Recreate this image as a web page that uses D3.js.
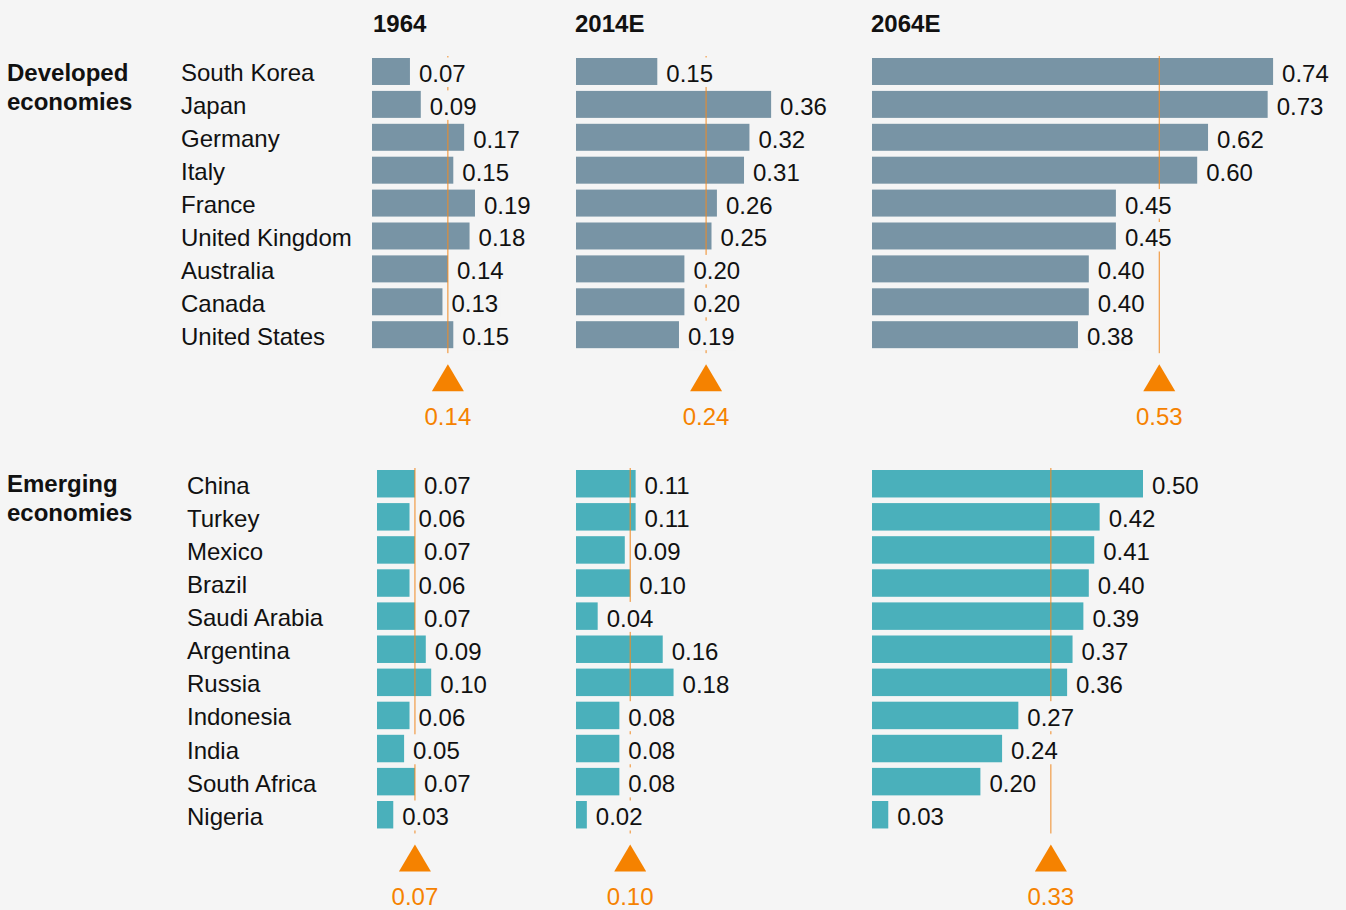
<!DOCTYPE html>
<html><head><meta charset="utf-8">
<script src="https://cdn.jsdelivr.net/npm/d3@7"></script>
<style>
html,body{margin:0;padding:0;background:#f5f5f5;}
svg{display:block;font-family:"Liberation Sans",Arial,sans-serif;}
</style></head>
<body><svg id="chart" width="1346" height="910"></svg>
<script>
// ---- data ----
const years = ["1964", "2014E", "2064E"];
const groupTitles = [["Developed", "economies"], ["Emerging", "economies"]];

const devCountries = ["South Korea","Japan","Germany","Italy","France","United Kingdom","Australia","Canada","United States"];
const dev1964 = [0.07, 0.09, 0.17, 0.15, 0.19, 0.18, 0.14, 0.13, 0.15];
const dev2014 = [0.15, 0.36, 0.32, 0.31, 0.26, 0.25, 0.20, 0.20, 0.19];
const dev2064 = [0.74, 0.73, 0.62, 0.60, 0.45, 0.45, 0.40, 0.40, 0.38];
const devMeans = [0.14, 0.24, 0.53];

const emCountries = ["China","Turkey","Mexico","Brazil","Saudi Arabia","Argentina","Russia","Indonesia","India","South Africa","Nigeria"];
const em1964 = [0.07, 0.06, 0.07, 0.06, 0.07, 0.09, 0.10, 0.06, 0.05, 0.07, 0.03];
const em2014 = [0.11, 0.11, 0.09, 0.10, 0.04, 0.16, 0.18, 0.08, 0.08, 0.08, 0.02];
const em2064 = [0.50, 0.42, 0.41, 0.40, 0.39, 0.37, 0.36, 0.27, 0.24, 0.20, 0.03];
const emMeans = [0.07, 0.10, 0.33];

// ---- style ----
const bg = "#f5f5f5";
const devColor = "#7894a5";
const emColor = "#4ab0bb";
const orange = "#f58200";
const lineColor = "#f08a24";
const fmt = d3.format(".2f");

const svg = d3.select("#chart");
svg.append("rect").attr("width",1346).attr("height",910).attr("fill",bg);

const x = d3.scaleLinear().domain([0, 1]).range([0, 542]);

// column headers
const headerX = [373, 575, 871];
svg.selectAll("text.year").data(years).join("text")
  .attr("class","year")
  .attr("x",(d,i)=>headerX[i]).attr("y",32)
  .attr("font-size",24).attr("font-weight","bold").attr("fill","#111")
  .text(d=>d);

const groups = [
  {countries: devCountries, series: [dev1964, dev2014, dev2064], means: devMeans,
   color: devColor, origins: [372, 576, 872], labelX: 181, top: 58, step: 32.9, pad: 0.18,
   title: groupTitles[0], titleY: 81},
  {countries: emCountries, series: [em1964, em2014, em2064], means: emMeans,
   color: emColor, origins: [377, 576, 872], labelX: 187, top: 470, step: 33.1, pad: 0.17,
   title: groupTitles[1], titleY: 492}
];

groups.forEach(g => {
  const n = g.countries.length;
  const y = d3.scaleBand().domain(g.countries)
    .range([g.top - g.step*g.pad/2, g.top - g.step*g.pad/2 + n*g.step])
    .paddingInner(g.pad).paddingOuter(g.pad/2);
  const bw = y.bandwidth();
  const root = svg.append("g");

  // group title
  root.append("text").attr("x",7).attr("y",g.titleY)
    .attr("font-size",24).attr("font-weight","bold").attr("fill","#111")
    .selectAll("tspan").data(g.title).join("tspan")
    .attr("x",7).attr("dy",(d,i)=>i?28.5:0).text(d=>d);

  // country labels
  root.selectAll("text.country").data(g.countries).join("text")
    .attr("class","country")
    .attr("x",g.labelX).attr("y",d=>y(d)+bw/2+10)
    .attr("font-size",24).attr("fill","#111").text(d=>d);

  const firstTop = y(g.countries[0]);
  const lastBottom = y(g.countries[n-1]) + bw;

  g.series.forEach((vals, si) => {
    const ox = g.origins[si];
    const col = root.append("g").attr("transform",`translate(${ox},0)`);
    const data = g.countries.map((c,i)=>({c, v: vals[i]}));

    col.selectAll("rect.bar").data(data).join("rect")
      .attr("class","bar")
      .attr("x",0).attr("y",d=>y(d.c))
      .attr("width",d=>x(d.v)).attr("height",bw)
      .attr("fill",g.color);

    const mx = x(g.means[si]);
    col.append("line")
      .attr("x1",mx).attr("x2",mx)
      .attr("y1",firstTop-2).attr("y2",lastBottom+5)
      .attr("stroke",lineColor).attr("stroke-width",1);

    // value labels with background
    const lab = col.selectAll("g.val").data(data).join("g").attr("class","val");
    lab.append("rect").attr("fill",bg);
    const txt = lab.append("text")
      .attr("x",d=>x(d.v)+9).attr("y",d=>y(d.c)+bw/2+10.5)
      .attr("font-size",24).attr("fill","#111")
      .text(d=>fmt(d.v));
    txt.each(function(d){
      const w = this.getComputedTextLength();
      d3.select(this.parentNode).select("rect")
        .attr("x",x(d.v)+7).attr("width",w+4)
        .attr("y",y(d.c)-0.5).attr("height",bw+2.5);
    });

    // triangle marker + mean label
    const ty = lastBottom + 16;
    col.append("path")
      .attr("d",`M${mx},${ty}L${mx+16},${ty+27}L${mx-16},${ty+27}Z`)
      .attr("fill",orange);
    col.append("text")
      .attr("x",mx).attr("y",ty+61)
      .attr("text-anchor","middle").attr("font-size",24).attr("fill",orange)
      .text(fmt(g.means[si]));
  });
});
</script></body></html>
